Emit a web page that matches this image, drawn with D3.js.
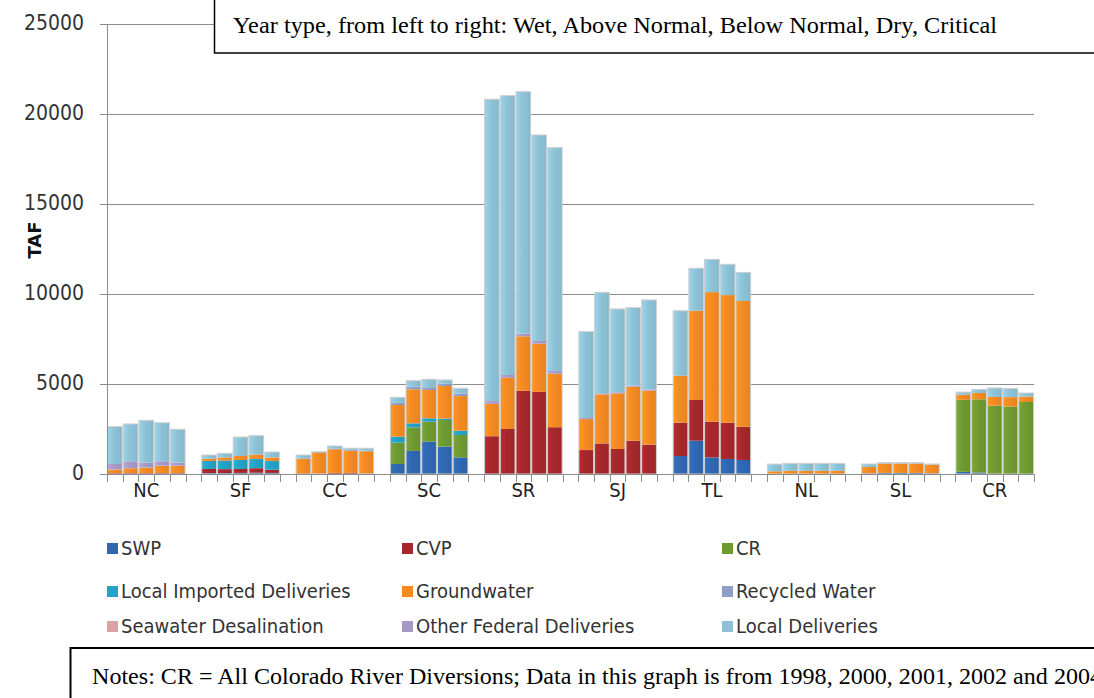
<!DOCTYPE html>
<html>
<head>
<meta charset="utf-8">
<script src="https://cdn.jsdelivr.net/npm/d3@7"></script>
<style>
  body { margin: 0; background: #fff; }
  svg { display: block; }
</style>
</head>
<body>
<svg id="chart" width="1094" height="698"></svg>
<script>
// regions and year types (wet -> critical)
const regions = ["NC", "SF", "CC", "SC", "SR", "SJ", "TL", "NL", "SL", "CR"];
const yearTypes = ["Wet", "Above Normal", "Below Normal", "Dry", "Critical"];
const yTicks = [0, 5000, 10000, 15000, 20000, 25000];

// one row per region, five year types each (TAF)
const swp = [
  [0, 0, 0, 0, 0], [50, 50, 60, 70, 60], [0, 0, 0, 0, 0], [555, 1280, 1795, 1520, 925], [0, 0, 0, 0, 0],
  [0, 0, 0, 0, 0], [1000, 1850, 925, 835, 780], [0, 0, 0, 0, 0], [30, 60, 60, 60, 30], [120, 80, 0, 0, 0]
];
const cvp = [
  [50, 50, 50, 50, 50], [230, 220, 220, 250, 180], [0, 20, 60, 60, 20], [0, 0, 0, 0, 0], [2100, 2500, 4620, 4560, 2600],
  [1330, 1700, 1390, 1850, 1630], [1850, 2260, 1980, 2015, 1850], [0, 0, 0, 0, 0], [0, 0, 0, 0, 0], [0, 0, 0, 0, 0]
];
const cr = [
  [0, 0, 0, 0, 0], [0, 0, 0, 0, 0], [0, 0, 0, 0, 0], [1185, 1315, 1110, 1480, 1240], [0, 0, 0, 0, 0],
  [0, 0, 0, 0, 0], [0, 0, 0, 0, 0], [0, 0, 0, 0, 0], [0, 0, 0, 0, 0], [4000, 4070, 3800, 3750, 4000]
];
const localImported = [
  [0, 0, 0, 0, 0], [445, 480, 500, 520, 480], [0, 0, 0, 0, 0], [335, 220, 190, 75, 240], [0, 0, 0, 0, 0],
  [0, 0, 0, 0, 0], [0, 0, 0, 0, 0], [0, 0, 0, 0, 0], [0, 0, 0, 0, 0], [0, 0, 0, 0, 0]
];
const groundwater = [
  [190, 265, 300, 395, 395], [130, 170, 220, 240, 200], [840, 1170, 1315, 1240, 1245], [1760, 1890, 1575, 1815, 1925], [1800, 2850, 3030, 2680, 2970],
  [1720, 2720, 3090, 3000, 3000], [2610, 4960, 7200, 7090, 6980], [150, 180, 180, 180, 180], [360, 520, 520, 520, 490], [280, 350, 480, 520, 300]
];
const recycled = [
  [20, 20, 20, 20, 20], [0, 0, 0, 0, 0], [30, 30, 30, 30, 30], [120, 150, 150, 120, 130], [0, 0, 0, 0, 0],
  [0, 0, 0, 0, 0], [0, 0, 0, 0, 0], [0, 0, 0, 0, 0], [0, 0, 0, 0, 0], [0, 0, 0, 0, 0]
];
const desal = [
  [0, 0, 0, 0, 0], [0, 0, 0, 0, 0], [0, 0, 0, 0, 0], [0, 0, 0, 0, 0], [0, 0, 0, 0, 0],
  [0, 0, 0, 0, 0], [0, 0, 0, 0, 0], [0, 0, 0, 0, 0], [0, 0, 0, 0, 0], [0, 0, 0, 0, 0]
];
const otherFederal = [
  [295, 370, 260, 240, 165], [0, 0, 0, 0, 0], [0, 0, 0, 0, 0], [0, 0, 0, 0, 0], [150, 150, 150, 150, 150],
  [60, 60, 60, 60, 60], [0, 0, 0, 0, 0], [0, 0, 0, 0, 0], [0, 0, 0, 0, 0], [0, 0, 0, 0, 0]
];
const localDeliveries = [
  [2080, 2075, 2350, 2145, 1855], [200, 230, 1055, 1048, 302], [185, 20, 150, 100, 135], [305, 330, 440, 215, 300], [16770, 15520, 13440, 11445, 12410],
  [4800, 5610, 4630, 4330, 4980], [3610, 2360, 1820, 1710, 1590], [400, 410, 410, 410, 410], [165, 50, 50, 50, 36], [150, 200, 500, 480, 200]
];

const series = [
  {key: "SWP", values: swp, color: "#2f67b1"},
  {key: "CVP", values: cvp, color: "#a6272b"},
  {key: "CR", values: cr, color: "#6e9a32"},
  {key: "Local Imported Deliveries", values: localImported, color: "#22a2c6"},
  {key: "Groundwater", values: groundwater, color: "#f48a22"},
  {key: "Recycled Water", values: recycled, color: "#8d9fc6"},
  {key: "Seawater Desalination", values: desal, color: "#d9a3a3"},
  {key: "Other Federal Deliveries", values: otherFederal, color: "#a898c6"},
  {key: "Local Deliveries", values: localDeliveries, color: "#8dc2d6"}
];

const svg = d3.select("#chart");
const plotLeft = 107, plotRight = 1034, plotTop = 24, plotBottom = 474;
const sansFont = "'DejaVu Sans Condensed', 'Liberation Sans Narrow', sans-serif";
const serifFont = "'Liberation Serif', 'Times New Roman', serif";

// 5 bars + 1 empty slot per region, last gap dropped
const slotCount = regions.length * 6 - 1;
const x = d3.scaleBand().domain(d3.range(slotCount)).range([plotLeft, plotRight]).padding(0);
const y = d3.scaleLinear().domain([0, 25000]).range([plotBottom, plotTop]);

// flat table for the stack
const rows = [];
regions.forEach(function(r, i) {
  yearTypes.forEach(function(t, j) {
    const row = {slot: i * 6 + j, region: r, year: t};
    series.forEach(function(s) { row[s.key] = s.values[i][j]; });
    rows.push(row);
  });
});
const stacked = d3.stack().keys(series.map(s => s.key))(rows);

// gridlines
svg.append("g").selectAll("line").data(yTicks.slice(1)).enter().append("line")
  .attr("x1", plotLeft - 7).attr("x2", plotRight)
  .attr("y1", d => Math.round(y(d)) + 0.5).attr("y2", d => Math.round(y(d)) + 0.5)
  .attr("stroke", "#8c8c8c").attr("stroke-width", 1);

// bars
const defs = svg.append("defs");
series.forEach(function(s, i) {
  const g = defs.append("linearGradient").attr("id", "grad" + i)
    .attr("x1", "0").attr("x2", "1").attr("y1", "0").attr("y2", "0");
  g.append("stop").attr("offset", "0%").attr("stop-color", d3.color(s.color).brighter(0.25));
  g.append("stop").attr("offset", "45%").attr("stop-color", s.color);
  g.append("stop").attr("offset", "100%").attr("stop-color", d3.color(s.color).darker(0.15));
});

svg.append("g").selectAll("g").data(stacked).enter().append("g")
  .attr("fill", (d, i) => "url(#grad" + i + ")")
  .selectAll("rect").data(d => d.filter(p => p[1] - p[0] > 0)).enter().append("rect")
  .attr("x", d => x(d.data.slot) + 0.5)
  .attr("width", x.bandwidth() - 1)
  .attr("y", d => y(d[1]))
  .attr("height", d => y(d[0]) - y(d[1]));

// thin light outlines around each bar
svg.append("g").selectAll("rect").data(rows).enter().append("rect")
  .attr("x", d => x(d.slot) + 0.5)
  .attr("width", x.bandwidth() - 1)
  .attr("y", d => y(d3.sum(series, s => d[s.key])))
  .attr("height", d => plotBottom - y(d3.sum(series, s => d[s.key])))
  .attr("fill", "none").attr("stroke", "#cfcfcf").attr("stroke-width", 1);

// axes
svg.append("line").attr("x1", plotLeft + 0.5).attr("x2", plotLeft + 0.5)
  .attr("y1", plotTop).attr("y2", plotBottom).attr("stroke", "#8c8c8c");
svg.append("line").attr("x1", plotLeft - 7).attr("x2", plotRight)
  .attr("y1", plotBottom + 0.5).attr("y2", plotBottom + 0.5).attr("stroke", "#8c8c8c");
svg.append("g").selectAll("text").data(yTicks).enter().append("text")
  .attr("x", 84).attr("y", d => y(d) + 6)
  .attr("text-anchor", "end")
  .attr("font-family", sansFont)
  .attr("font-size", 21).attr("fill", "#333")
  .text(d => d);
svg.append("text")
  .attr("transform", "translate(41," + 240 + ") rotate(-90)")
  .attr("text-anchor", "middle")
  .attr("font-family", "'DejaVu Sans', sans-serif").attr("font-weight", "bold")
  .attr("font-size", 18).attr("fill", "#111")
  .text("TAF");

// x ticks at every slot boundary
svg.append("g").selectAll("line").data(d3.range(slotCount + 1)).enter().append("line")
  .attr("x1", d => Math.round(plotLeft + d * x.step()) + 0.5)
  .attr("x2", d => Math.round(plotLeft + d * x.step()) + 0.5)
  .attr("y1", plotBottom).attr("y2", plotBottom + 8)
  .attr("stroke", "#8c8c8c");

svg.append("g").selectAll("text").data(regions).enter().append("text")
  .attr("x", (d, i) => x(i * 6) + x.step() * 2.5)
  .attr("y", 497)
  .attr("text-anchor", "middle")
  .attr("font-family", sansFont)
  .attr("font-size", 20).attr("fill", "#222")
  .text(d => d);

// legend, 3 columns
const legCols = [107, 402, 722], legRows = [555, 598, 633];
const leg = svg.append("g").selectAll("g").data(series).enter().append("g")
  .attr("transform", (d, i) => "translate(" + legCols[i % 3] + "," + legRows[Math.floor(i / 3)] + ")");
leg.append("rect").attr("x", 0).attr("y", -12).attr("width", 11).attr("height", 11)
  .attr("fill", d => d.color);
leg.append("text").attr("x", 14).attr("y", 0)
  .attr("font-family", sansFont)
  .attr("font-size", 20).attr("fill", "#333")
  .text(d => d.key);

// year type note box
svg.append("rect").attr("x", 214.5).attr("y", -5).attr("width", 900).attr("height", 58)
  .attr("fill", "#fff").attr("stroke", "#000").attr("stroke-width", 1.5);
svg.append("text").attr("x", 233).attr("y", 33)
  .attr("font-family", serifFont)
  .attr("font-size", 23).attr("fill", "#000")
  .attr("textLength", 764).attr("lengthAdjust", "spacingAndGlyphs")
  .text("Year type, from left to right: Wet, Above Normal, Below Normal, Dry, Critical");

// notes box
svg.append("rect").attr("x", 70.5).attr("y", 648).attr("width", 1100).attr("height", 80)
  .attr("fill", "#fff").attr("stroke", "#000").attr("stroke-width", 2);
svg.append("text").attr("x", 92).attr("y", 684)
  .attr("font-family", serifFont)
  .attr("font-size", 23).attr("fill", "#000")
  .attr("textLength", 1010).attr("lengthAdjust", "spacingAndGlyphs")
  .text("Notes: CR = All Colorado River Diversions; Data in this graph is from 1998, 2000, 2001, 2002 and 2004");
</script>
</body>
</html>
